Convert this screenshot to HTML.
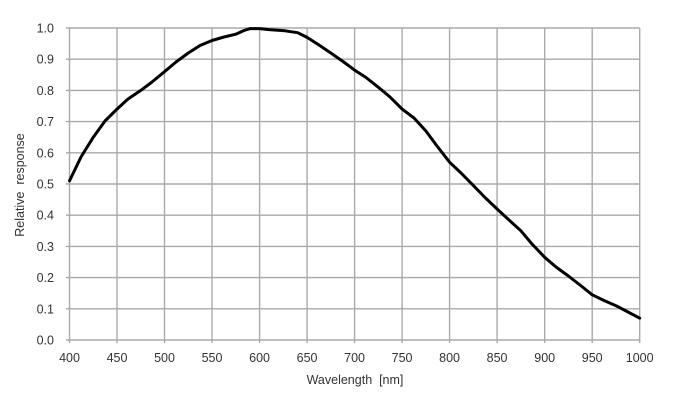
<!DOCTYPE html>
<html><head><meta charset="utf-8"><style>
html,body{margin:0;padding:0;background:#fff;}
svg{display:block;}
text{font-family:"Liberation Sans",Arial,sans-serif;fill:#333;}
</style></head><body>
<svg width="684" height="415" viewBox="0 0 684 415" xmlns="http://www.w3.org/2000/svg">
<g stroke="#aaa" stroke-width="1.4" fill="none">
<line x1="66" y1="28" x2="639.7" y2="28"/>
<line x1="66" y1="59.2" x2="639.7" y2="59.2"/>
<line x1="66" y1="90.4" x2="639.7" y2="90.4"/>
<line x1="66" y1="121.6" x2="639.7" y2="121.6"/>
<line x1="66" y1="152.8" x2="639.7" y2="152.8"/>
<line x1="66" y1="184" x2="639.7" y2="184"/>
<line x1="66" y1="215.2" x2="639.7" y2="215.2"/>
<line x1="66" y1="246.4" x2="639.7" y2="246.4"/>
<line x1="66" y1="277.6" x2="639.7" y2="277.6"/>
<line x1="66" y1="308.8" x2="639.7" y2="308.8"/>
<line x1="66" y1="340" x2="639.7" y2="340"/>
<line x1="69.5" y1="28" x2="69.5" y2="343"/>
<line x1="117" y1="28" x2="117" y2="343"/>
<line x1="164.5" y1="28" x2="164.5" y2="343"/>
<line x1="212" y1="28" x2="212" y2="343"/>
<line x1="259.6" y1="28" x2="259.6" y2="343"/>
<line x1="307.1" y1="28" x2="307.1" y2="343"/>
<line x1="354.6" y1="28" x2="354.6" y2="343"/>
<line x1="402.1" y1="28" x2="402.1" y2="343"/>
<line x1="449.6" y1="28" x2="449.6" y2="343"/>
<line x1="497.1" y1="28" x2="497.1" y2="343"/>
<line x1="544.7" y1="28" x2="544.7" y2="343"/>
<line x1="592.2" y1="28" x2="592.2" y2="343"/>
<line x1="639.7" y1="28" x2="639.7" y2="343"/>
</g>
<g font-size="12.5" text-anchor="end">
<text x="54" y="32.5">1.0</text>
<text x="54" y="63.7">0.9</text>
<text x="54" y="94.9">0.8</text>
<text x="54" y="126.1">0.7</text>
<text x="54" y="157.3">0.6</text>
<text x="54" y="188.5">0.5</text>
<text x="54" y="219.7">0.4</text>
<text x="54" y="250.9">0.3</text>
<text x="54" y="282.1">0.2</text>
<text x="54" y="313.3">0.1</text>
<text x="54" y="344.5">0.0</text>
</g>
<g font-size="12.5" text-anchor="middle">
<text x="69.5" y="362">400</text>
<text x="117" y="362">450</text>
<text x="164.5" y="362">500</text>
<text x="212" y="362">550</text>
<text x="259.6" y="362">600</text>
<text x="307.1" y="362">650</text>
<text x="354.6" y="362">700</text>
<text x="402.1" y="362">750</text>
<text x="449.6" y="362">800</text>
<text x="497.1" y="362">850</text>
<text x="544.7" y="362">900</text>
<text x="592.2" y="362">950</text>
<text x="639.7" y="362">1000</text>
<text x="355" y="384" xml:space="preserve">Wavelength  [nm]</text>
<text transform="translate(24,185) rotate(-90)" xml:space="preserve">Relative  response</text>
</g>
<polyline fill="none" stroke="#000" stroke-width="3" stroke-linejoin="round" stroke-linecap="round"
points="69.5,180.9 81,157 93.3,137.2 105,121 117,109.1 128,99 140.8,90.4 152,82 164.5,71.7 176,62 188.3,53 200,45.5 212,40.5 224,37 235.8,34.2 244,30.5 250.1,28.6 259.6,28.6 269.1,29.6 285,30.8 297.6,32.7 307.1,37.4 319,45 330.8,53 343,61.5 354.6,70.1 366,77.5 378.4,87.3 390,97 402.1,109.1 414,118 425.9,131 437,146 449.6,162.2 461,173 473.4,185.6 485,197.5 497.1,209 509,220 520.9,230.8 532,244 544.7,257.3 556,267 568.4,276 580,285 592.2,294.8 604,300.5 616,305.7 628,312 639.7,318.2"/>
</svg>
</body></html>
